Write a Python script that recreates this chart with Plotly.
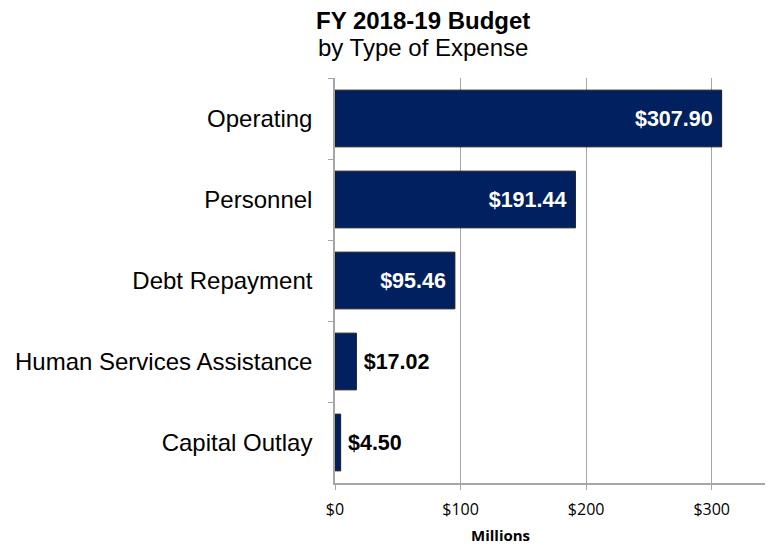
import plotly.graph_objects as go

# data
categories = ['Operating', 'Personnel', 'Debt Repayment',
              'Human Services Assistance', 'Capital Outlay']
amounts = [307.90, 191.44, 95.46, 17.02, 4.50]
tick_values = [0, 100, 200, 300]
tick_labels = ['$0', '$100', '$200', '$300']

NAVY = '#002060'
GREY = '#a6a6a6'

# large bars get a white label inside, small ones a black label outside
inside = [v > 50 for v in amounts]
labels = [('$%.2f' % v) + '\u00a0' if big else '\u2009' + ('$%.2f' % v)
          for v, big in zip(amounts, inside)]
positions = ['inside' if big else 'outside' for big in inside]
label_colors = ['white' if big else 'black' for big in inside]

fig = go.Figure(go.Bar(
    y=categories,
    x=amounts,
    orientation='h',
    width=0.7,
    marker=dict(color=NAVY, line=dict(color='#1a1a1a', width=1)),
    text=labels,
    textposition=positions,
    insidetextanchor='end',
    textfont=dict(family='Liberation Sans, Arial', size=21.5,
                  color=label_colors, weight='bold'),
    cliponaxis=False,
))

# the page body adds an 8px offset, so the figure is 8px smaller
fig.update_layout(
    width=765,
    height=538,
    margin=dict(l=327, r=1, t=70, b=63, autoexpand=False),
    plot_bgcolor='white',
    paper_bgcolor='white',
    showlegend=False,
    uniformtext=dict(mode=False),
    font=dict(family='Liberation Sans, Arial', color='black'),
)

fig.update_yaxes(
    autorange='reversed',
    automargin=False,
    tickson='boundaries',
    ticks='outside',
    ticklen=5,
    tickcolor=GREY,
    showline=True,
    linecolor=GREY,
    linewidth=1.5,
    showgrid=False,
    tickfont=dict(size=24, color='black'),
    ticklabelstandoff=16,
)

fig.update_xaxes(
    range=[0, 348],
    automargin=False,
    tickvals=tick_values,
    ticktext=tick_labels,
    ticks='outside',
    ticklen=5,
    tickcolor=GREY,
    showline=True,
    linecolor=GREY,
    linewidth=1.5,
    showgrid=True,
    gridcolor=GREY,
    gridwidth=1,
    zeroline=False,
    tickfont=dict(family='Open Sans', size=16, color='black'),
    ticklabelstandoff=6,
)

# axis title sits left of the plot centre in the reference
fig.add_annotation(
    text='<b>Millions</b>',
    xref='paper', yref='paper', x=(500 - 335) / 437, y=0,
    xanchor='center', yanchor='middle', yshift=-52,
    showarrow=False, font=dict(family='Open Sans', size=15, color='black'),
)

fig.add_annotation(
    text='<b>FY 2018-19 Budget</b>',
    xref='paper', yref='paper', x=(423 - 335) / 437, y=1,
    xanchor='center', yanchor='middle', yshift=58,
    showarrow=False, font=dict(size=24, color='black'),
)
fig.add_annotation(
    text='by Type of Expense',
    xref='paper', yref='paper', x=(423 - 335) / 437, y=1,
    xanchor='center', yanchor='middle', yshift=31,
    showarrow=False, font=dict(size=24, color='black'),
)

fig.write_html('out.html')
